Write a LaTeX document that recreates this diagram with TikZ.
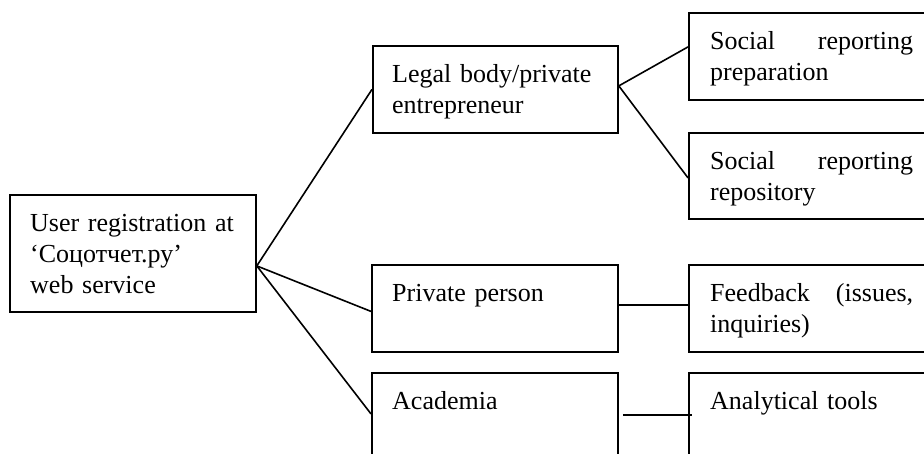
\documentclass[tikz,border=0pt]{standalone}
\usepackage{fontspec}
\setmainfont{Liberation Serif}
\begin{document}
\begin{tikzpicture}[x=1pt,y=-1pt,
  box/.style={draw, line width=1.8pt, rectangle, inner sep=0pt, anchor=north west, minimum width=245pt},
  txt/.style={anchor=north west, inner sep=0pt, text width=208pt, align=left, font=\fontsize{26}{31}\selectfont},
  link/.style={line width=1.6pt}]
\useasboundingbox (0,0) rectangle (924,454);
\fill[white] (0,0) rectangle (924,454);
\clip (0,0) rectangle (924,454);
% boxes
\node[box, minimum width=246pt, minimum height=117pt] (user) at (9,194) {};
\node[box, minimum height=87pt] (legal) at (372,45) {};
\node[box, minimum height=87pt] (prep) at (688,12) {};
\node[box, minimum height=86pt] (repo) at (688,132) {};
\node[box, minimum width=246pt, minimum height=87pt] (priv) at (371,264) {};
\node[box, minimum height=87pt] (feed) at (688,264) {};
\node[box, minimum width=246pt, minimum height=87pt] (acad) at (371,372) {};
\node[box, minimum height=87pt] (anal) at (688,372) {};
% texts
\node[txt] (userT) at ([xshift=21pt,yshift=-15.3pt]user.north west) {\strut User registration at\\‘Соцотчет.ру’\\web service};
\node[txt] (legalT) at ([xshift=20pt,yshift=-15.3pt]legal.north west) {\strut Legal body/private\\entrepreneur};
\node[txt] (prepT) at ([xshift=22pt,yshift=-15.3pt]prep.north west) {\strut\makebox[203pt][l]{Social\hfill reporting}\\preparation};
\node[txt] (repoT) at ([xshift=22pt,yshift=-15.3pt]repo.north west) {\strut\makebox[203pt][l]{Social\hfill reporting}\\repository};
\node[txt] (privT) at ([xshift=21pt,yshift=-15.3pt]priv.north west) {\strut Private person};
\node[txt] (feedT) at ([xshift=22pt,yshift=-15.3pt]feed.north west) {\strut\makebox[203pt][l]{Feedback\hfill (issues,}\\inquiries)};
\node[txt] (acadT) at ([xshift=21pt,yshift=-15.3pt]acad.north west) {\strut Academia};
\node[txt] (analT) at ([xshift=22pt,yshift=-15.3pt]anal.north west) {\strut Analytical tools};
% connectors
\draw[link] ([yshift=-12.5pt]user.east) -- (legal.west);
\draw[link] ([yshift=-12.5pt]user.east) -- ([yshift=-3pt]priv.west);
\draw[link] ([yshift=-12.5pt]user.east) -- ([yshift=2.5pt]acad.west);
\draw[link] ([yshift=3.5pt]legal.east) -- ([yshift=9.5pt]prep.west);
\draw[link] ([yshift=3.5pt]legal.east) -- ([yshift=-2pt]repo.west);
\draw[link] ([yshift=3.5pt]priv.east) -- ([yshift=3.5pt]feed.west);
\draw[link] ([xshift=4pt,yshift=1.5pt]acad.east) -- ([xshift=4pt,yshift=1.5pt]anal.west);
\end{tikzpicture}
\end{document}
